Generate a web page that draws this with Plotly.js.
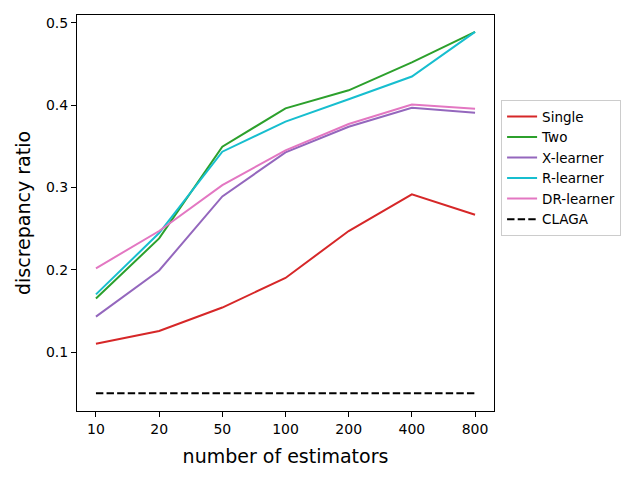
<!DOCTYPE html>
<html>
<head>
<meta charset="utf-8">
<script src="https://cdn.plot.ly/plotly-3.0.1.min.js"></script>
<style>html,body{margin:0;padding:0;background:#fff;}#chart{width:640px;height:480px;}</style>
</head>
<body>
<div id="chart"></div>
<script>
const categories = ["10", "20", "50", "100", "200", "400", "800"];
const seriesNames = ["Single", "Two", "X-learner", "R-learner", "DR-learner", "CLAGA"];
const single    = [0.110, 0.1255, 0.154, 0.190, 0.247, 0.2915, 0.2667];
const two       = [0.165, 0.238, 0.3495, 0.396, 0.418, 0.452, 0.489];
const xLearner  = [0.143, 0.199, 0.289, 0.3426, 0.3737, 0.3968, 0.3907];
const rLearner  = [0.170, 0.2445, 0.3434, 0.380, 0.4072, 0.4347, 0.489];
const drLearner = [0.2017, 0.247, 0.3027, 0.345, 0.377, 0.4008, 0.3955];
const claga     = [0.05, 0.05, 0.05, 0.05, 0.05, 0.05, 0.05];

const colors = ["#d62728", "#2ca02c", "#9467bd", "#17becf", "#e377c2", "#000000"];
const values = [single, two, xLearner, rLearner, drLearner, claga];

const traces = values.map((v, i) => ({
  x: categories,
  y: v,
  type: "scatter",
  mode: "lines",
  name: seriesNames[i],
  line: {color: colors[i], width: 2, dash: i === 5 ? "7.4px,3.2px" : "solid"}
}));

const font = "DejaVu Sans, sans-serif";
const layout = {
  width: 640, height: 480,
  margin: {l: 77, r: 146, t: 15, b: 69},
  paper_bgcolor: "#fff", plot_bgcolor: "#fff",
  font: {family: font, size: 14, color: "#000"},
  showlegend: true,
  legend: {
    x: 1.017, y: 0.785, xanchor: "left", yanchor: "top",
    bordercolor: "#cccccc", borderwidth: 1,
    font: {family: font, size: 13.5, color: "#000"},
    tracegroupgap: 0
  },
  xaxis: {
    type: "category",
    range: [-0.3, 6.3],
    showgrid: false, zeroline: false,
    showline: true, linecolor: "#000", linewidth: 1, mirror: true,
    ticks: "outside", ticklen: 5, tickcolor: "#000",
    tickfont: {family: font, size: 14},
    title: {text: "number of estimators", font: {family: font, size: 19}, standoff: 13}
  },
  yaxis: {
    range: [0.0283, 0.5095],
    tickvals: [0.1, 0.2, 0.3, 0.4, 0.5],
    ticktext: ["0.1", "0.2", "0.3", "0.4", "0.5"],
    showgrid: false, zeroline: false,
    showline: true, linecolor: "#000", linewidth: 1, mirror: true,
    ticks: "outside", ticklen: 5, tickcolor: "#000",
    tickfont: {family: font, size: 14},
    title: {text: "discrepancy ratio", font: {family: font, size: 19}, standoff: 10}
  }
};

Plotly.newPlot("chart", traces, layout, {displayModeBar: false, staticPlot: true});
</script>
</body>
</html>
